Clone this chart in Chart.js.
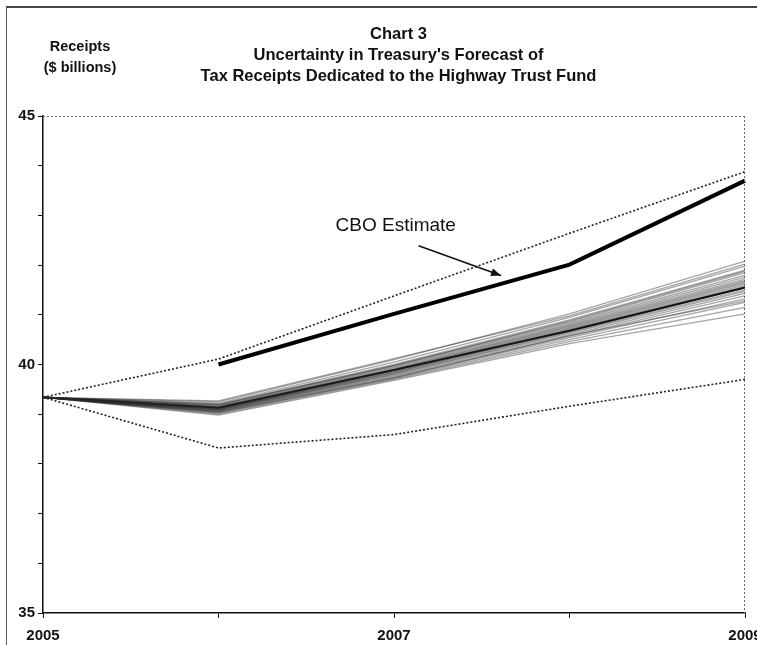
<!DOCTYPE html>
<html>
<head>
<meta charset="utf-8">
<script src="https://cdn.jsdelivr.net/npm/chart.js@4/dist/chart.umd.min.js"></script>
<style>
  html, body { margin:0; padding:0; background:#fff; overflow:hidden; width:757px; height:645px; }
  #frame { position:absolute; left:6px; top:6px; width:800px; height:700px; border-left:1.5px solid #555; border-top:2px solid #444; }
  #wrap { position:absolute; left:0; top:0; }
  .t { position:absolute; font-family:"Liberation Sans", Arial, sans-serif; font-weight:bold; color:#111; white-space:nowrap; }
</style>
</head>
<body>
<div id="frame"></div>
<div id="wrap"><canvas id="c" width="800" height="645"></canvas></div>
<div class="t" style="left:0;width:797px;text-align:center;top:23px;font-size:16.5px;line-height:21px;">Chart 3<br>Uncertainty in Treasury's Forecast of<br>Tax Receipts Dedicated to the Highway Trust Fund</div>
<div class="t" style="left:30px;width:100px;text-align:center;top:36px;font-size:14.5px;line-height:21px;">Receipts<br>($ billions)</div>
<script>
// ---- data ----
const years = ['2005', '2006', '2007', '2008', '2009'];
const xTickLabels = ['2005', '2007', '2009'];
const yTickLabels = [35, 40, 45];
const upperBound = [39.34, 40.11, 41.38, 42.64, 43.88];
const lowerBound = [39.34, 38.32, 38.59, 39.16, 39.70];
const treasuryForecast = [39.34, 39.13, 39.89, 40.68, 41.55];
const cboEstimate = [null, 40.00, 41.02, 42.01, 43.70];
// simulated forecast paths (fan), read by eye
const sim01 = [39.34, 39.25, 40.10, 41.02, 42.08];
const sim02 = [39.34, 39.22, 40.05, 40.95, 41.98];
const sim03 = [39.34, 39.20, 40.00, 40.90, 41.90];
const sim04 = [39.34, 39.18, 39.98, 40.86, 41.85];
const sim05 = [39.34, 39.16, 39.95, 40.83, 41.80];
const sim06 = [39.34, 39.15, 39.93, 40.80, 41.76];
const sim07 = [39.34, 39.14, 39.91, 40.78, 41.72];
const sim08 = [39.34, 39.13, 39.90, 40.76, 41.69];
const sim09 = [39.34, 39.12, 39.88, 40.74, 41.66];
const sim10 = [39.34, 39.11, 39.87, 40.72, 41.63];
const sim11 = [39.34, 39.10, 39.85, 40.70, 41.60];
const sim12 = [39.34, 39.10, 39.84, 40.69, 41.57];
const sim13 = [39.34, 39.09, 39.83, 40.67, 41.54];
const sim14 = [39.34, 39.08, 39.81, 40.65, 41.50];
const sim15 = [39.34, 39.07, 39.80, 40.63, 41.47];
const sim16 = [39.34, 39.06, 39.78, 40.60, 41.43];
const sim17 = [39.34, 39.05, 39.76, 40.57, 41.38];
const sim18 = [39.34, 39.04, 39.74, 40.54, 41.32];
const sim19 = [39.34, 39.02, 39.72, 40.50, 41.25];
const sim20 = [39.34, 39.00, 39.70, 40.46, 41.15];
const sim21 = [39.34, 38.98, 39.68, 40.42, 41.02];
const sim22 = [39.34, 39.27, 40.12, 40.98, 42.02];
const sim23 = [39.34, 39.03, 39.73, 40.58, 41.28];
const sim24 = [39.34, 39.19, 39.97, 40.88, 41.88];
const simPaths = [sim01, sim02, sim03, sim04, sim05, sim06, sim07, sim08, sim09, sim10, sim11, sim12,
                  sim13, sim14, sim15, sim16, sim17, sim18, sim19, sim20, sim21, sim22, sim23, sim24];
// annotation (data coordinates)
const cboLabel = { text: 'CBO Estimate', x: 2007.01, y: 42.8 };
const cboArrow = { x1: 2007.14, y1: 42.39, x2: 2007.61, y2: 41.79 };

// ---- chart ----
const fanSets = simPaths.map((p, i) => ({
  label: 'sim' + i, data: p, borderColor: 'rgba(40,40,40,0.42)', borderWidth: 1.3,
  pointRadius: 0, tension: 0, fill: false
}));

const xOf = (s, v) => s.getPixelForValue(v - 2005);

const overlay = {
  id: 'overlay',
  afterDatasetsDraw(chart) {
    const ctx = chart.ctx, a = chart.chartArea;
    const xs = chart.scales.x, ys = chart.scales.y;
    ctx.save();
    // top and right frame of plot area
    ctx.strokeStyle = '#666'; ctx.lineWidth = 1; ctx.setLineDash([2, 2]);
    ctx.beginPath(); ctx.moveTo(a.left, a.top + 0.5); ctx.lineTo(a.right, a.top + 0.5); ctx.stroke();
    ctx.beginPath(); ctx.moveTo(a.right - 0.5, a.top); ctx.lineTo(a.right - 0.5, a.bottom); ctx.stroke();
    ctx.setLineDash([]);
    // label
    ctx.fillStyle = '#111';
    ctx.font = '19px "Liberation Sans", Arial, sans-serif';
    ctx.textAlign = 'center'; ctx.textBaseline = 'middle';
    ctx.fillText(cboLabel.text, xOf(xs, cboLabel.x), ys.getPixelForValue(cboLabel.y));
    // arrow
    const x1 = xOf(xs, cboArrow.x1), y1 = ys.getPixelForValue(cboArrow.y1);
    const x2 = xOf(xs, cboArrow.x2), y2 = ys.getPixelForValue(cboArrow.y2);
    ctx.strokeStyle = '#111'; ctx.lineWidth = 1.6;
    ctx.beginPath(); ctx.moveTo(x1, y1); ctx.lineTo(x2, y2); ctx.stroke();
    const ang = Math.atan2(y2 - y1, x2 - x1), L = 10, W = 4;
    ctx.beginPath();
    ctx.moveTo(x2, y2);
    ctx.lineTo(x2 - L * Math.cos(ang) + W * Math.sin(ang), y2 - L * Math.sin(ang) - W * Math.cos(ang));
    ctx.lineTo(x2 - L * Math.cos(ang) - W * Math.sin(ang), y2 - L * Math.sin(ang) + W * Math.cos(ang));
    ctx.closePath(); ctx.fill();
    ctx.restore();
  }
};

new Chart(document.getElementById('c'), {
  type: 'line',
  data: {
    labels: years,
    datasets: [
      ...fanSets,
      { label: 'Upper', data: upperBound, borderColor: '#222', borderWidth: 1.6, borderDash: [2, 2], pointRadius: 0, tension: 0 },
      { label: 'Lower', data: lowerBound, borderColor: '#222', borderWidth: 1.6, borderDash: [2, 2], pointRadius: 0, tension: 0 },
      { label: 'Treasury', data: treasuryForecast, borderColor: '#000', borderWidth: 2, pointRadius: 0, tension: 0 },
      { label: 'CBO Estimate', data: cboEstimate, borderColor: '#000', borderWidth: 4, pointRadius: 0, tension: 0, spanGaps: false }
    ]
  },
  options: {
    responsive: false, animation: false, devicePixelRatio: 1,
    layout: { padding: { top: 116, right: 55, left: 0, bottom: 0 } },
    plugins: { legend: { display: false }, tooltip: { enabled: false }, title: { display: false } },
    scales: {
      x: {
        type: 'category', offset: false,
        grid: { drawOnChartArea: false, drawTicks: true, tickLength: 5, color: '#111' },
        border: { color: '#111', width: 1.5 },
        ticks: {
          autoSkip: false, maxRotation: 0, padding: 9, color: '#111',
          font: { family: '"Liberation Sans", Arial, sans-serif', size: 15, weight: 'bold' },
          callback: function (v, i) { const l = years[i]; return xTickLabels.includes(l) ? l : ''; }
        },
        afterFit: s => { s.height = 32; }
      },
      y: {
        min: 35, max: 45,
        grid: { drawOnChartArea: false, drawTicks: true, tickLength: 5, color: '#111' },
        border: { color: '#111', width: 1.5 },
        ticks: {
          stepSize: 1, padding: 3, color: '#111',
          font: { family: '"Liberation Sans", Arial, sans-serif', size: 15, weight: 'bold' },
          callback: v => yTickLabels.includes(v) ? String(v) : ''
        },
        afterFit: s => { s.width = 43; }
      }
    }
  },
  plugins: [overlay]
});
</script>
</body>
</html>
